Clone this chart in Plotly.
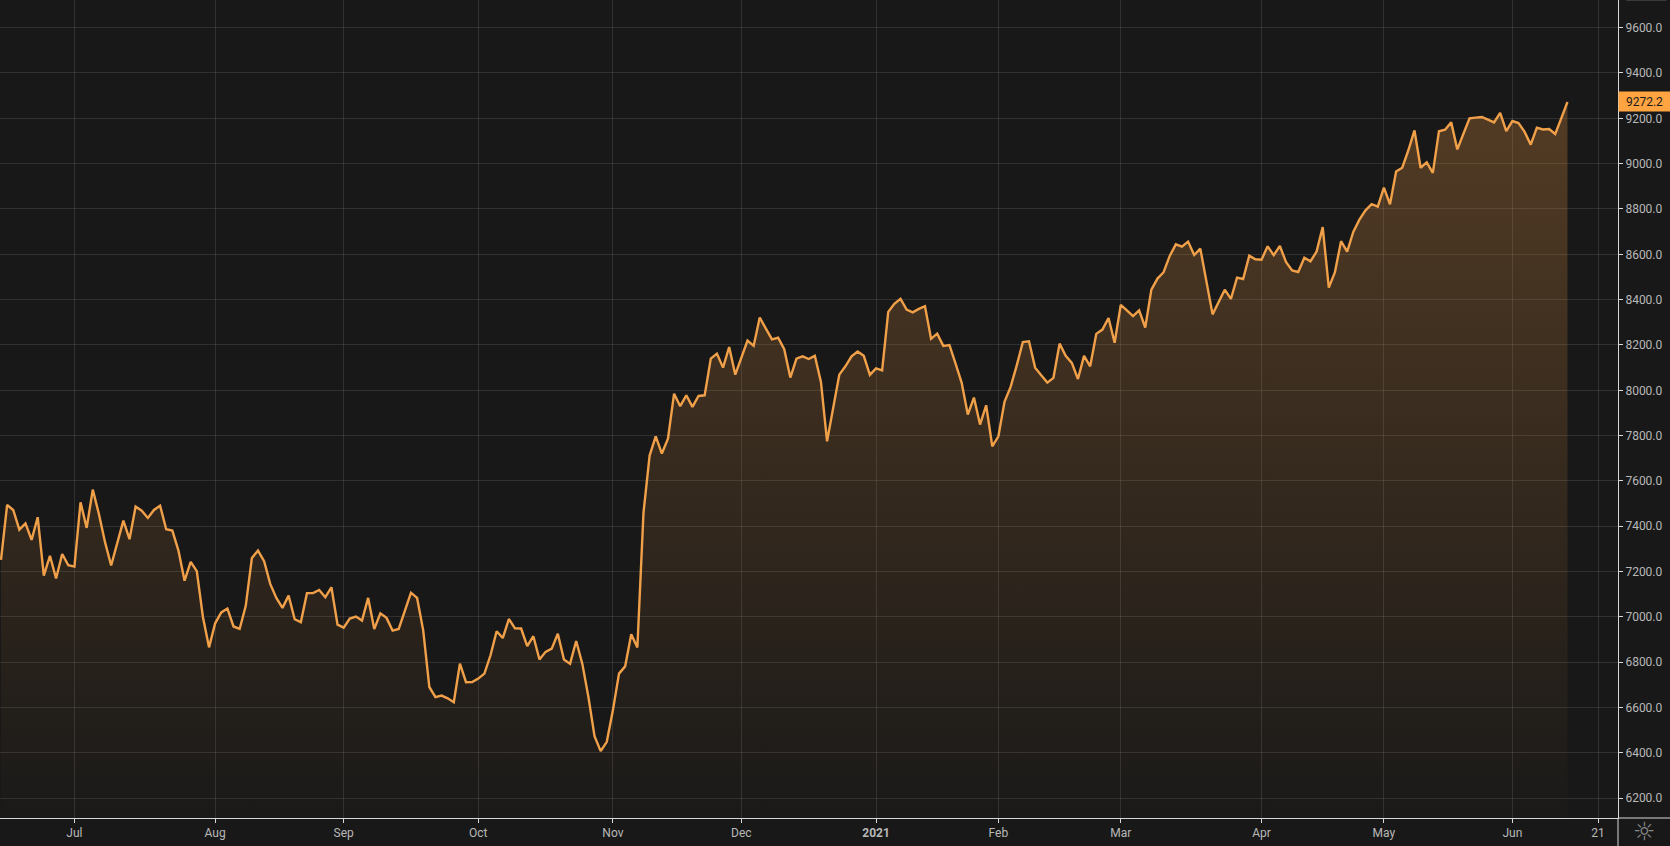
import plotly.graph_objects as go

values_a = [7252,7494,7472,7385,7413,7340,7440,7182,7270,7170,7278,7228,7222,7506,7393,7562,7454,7330,7227,7322,7425,7343,7487,7469,7437,7472,7491,7387,7381,7293,7160,7243,7202,7000,6866,6972,7020,7037,6958,6947,7049,7260,7293,7246,7146,7084,7040,7094,6990,6977,7105,7105,7119,7087,7131,6966,6953,6993,7002,6984,7084,6947,7016,6996,6940,6947,7031,7107,7084]
values_b = [6941,6691,6646,6653,6641,6624,6794,6712,6713,6728,6750,6831,6937,6907,6991,6950,6949,6871,6915,6812,6846,6860,6926,6812,6793,6894,6794,6647,6474,6408,6449,6588,6750,6782,6924,6865,7460]
values_c = [7712,7797,7721,7787,7985,7930,7978,7927,7975,7978,8140,8162,8100,8191,8069,8143,8219,8196,8321,8272,8225,8232,8181,8056,8140,8150,8138,8152,8037,7775,7919,8069,8106,8150,8171,8152,8068,8097,8088,8346,8382,8404,8356,8344,8359,8371,8227,8250,8196,8200,8118,8033,7893,7968,7849,7934,7753,7797,7949,8015,8110,8213,8216,8100]
values_d = [8066,8034,8055,8206,8152,8121,8050,8152,8106,8249,8268,8319,8210,8377,8353,8327,8353,8277,8444,8493,8521,8593,8644,8634,8656,8597,8625,8478,8335,8390,8444,8403,8497,8491,8594,8578,8576,8635,8596,8637,8566,8529,8522,8585,8569,8612,8720,8453,8521]
values_e = [8658,8612,8699,8753,8794,8821,8810,8894,8821,8965,8982,9059,9147,8982,9006,8959,9143,9150,9182,9063,9132,9200,9203,9206,9194,9182,9224,9144,9188,9179,9140,9084,9159,9151,9153,9131,9201,9272.2]
close = values_a + values_b + values_c + values_d + values_e
session = list(range(len(close)))

month_ticks = [12,35,56,78,100,121,143,163,183,206,226,247,261]
month_labels = ["Jul","Aug","Sep","Oct","Nov","Dec","<b>2021</b>","Feb","Mar","Apr","May","Jun","21"]
price_ticks = [6200+200*i for i in range(18)]
price_labels = [f"{v:.1f}" for v in price_ticks]
last_label = "9272.2"

BG = "#181818"
ORANGE = "#f1a04a"
AXIS = "#d8d8d8"
GRID = "rgba(255,255,255,0.105)"
FONT = "Roboto"

fig = go.Figure(go.Scatter(
    x=session, y=close, mode="lines",
    line=dict(color=ORANGE, width=2.4),
    fill="tozeroy",
    fillgradient=dict(type="vertical", start=6113, stop=9272,
                      colorscale=[[0,"rgba(250,160,70,0.01)"],[1,"rgba(250,160,70,0.26)"]]),
    hoverinfo="skip", showlegend=False))
fig.update_layout(
    width=1670, height=846, margin=dict(l=0,r=52,t=0,b=28),
    paper_bgcolor=BG, plot_bgcolor=BG,
    font=dict(family=FONT, size=12, color="#b8b8b8"),
    xaxis=dict(range=[-0.163,264.26], tickmode="array", tickvals=month_ticks, ticktext=month_labels,
               showgrid=True, gridcolor=GRID, gridwidth=1,
               showline=True, linecolor=AXIS, linewidth=1,
               ticks="outside", ticklen=4, tickcolor=AXIS, zeroline=False),
    yaxis=dict(side="right", range=[6113,9722], tickmode="array", tickvals=price_ticks, ticktext=price_labels,
               showgrid=True, gridcolor=GRID, gridwidth=1,
               showline=True, linecolor=AXIS, linewidth=1,
               ticks="outside", ticklen=4, tickcolor=AXIS, zeroline=False),
    annotations=[
        dict(xref="paper", x=1, xanchor="left", yref="y", y=close[-1], yanchor="middle", text=last_label,
             showarrow=False, bgcolor="#ffa440", width=51, height=19, font=dict(color="#1a1a1a", size=12, family=FONT), borderpad=0),
        dict(xref="paper", x=1.016, xanchor="center", yref="paper", y=-0.0165, yanchor="middle", text="☼", showarrow=False,
             font=dict(family="DejaVu Sans", size=25, color="#8a8a8a")),
    ],
    shapes=[
        dict(type="line", xref="paper", x0=1, x1=1, yref="paper", y0=-0.04, y1=0, line=dict(color=AXIS, width=1)),
        dict(type="line", xref="paper", x0=1, x1=1.033, yref="paper", y0=0, y1=0, line=dict(color=AXIS, width=1)),
        dict(type="line", xref="paper", x0=1.005, x1=1.03, yref="paper", y0=1, y1=1, line=dict(color="#3a3a3a", width=2)),
    ],
)
fig.write_html("out.html", config={"displayModeBar": False},
               post_script="document.body.style.margin='0';document.body.style.background='#181818';")
